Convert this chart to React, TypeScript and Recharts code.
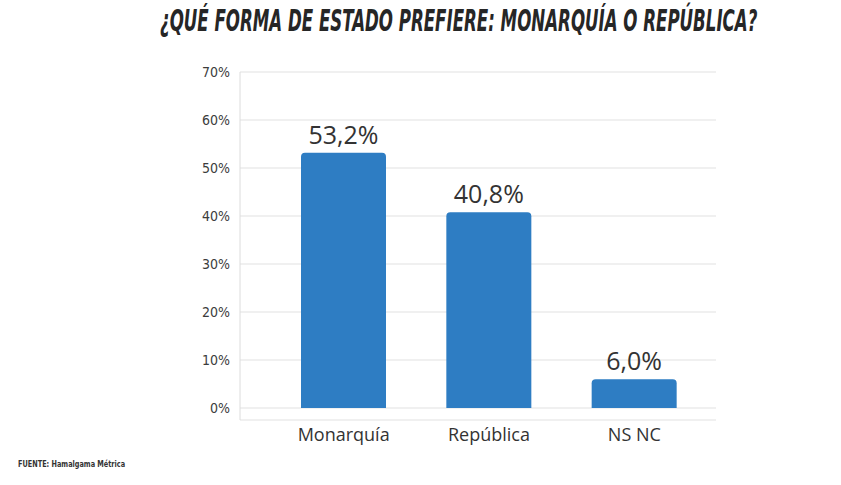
import { useLayoutEffect, useRef, useState } from 'react';
import { BarChart, Bar, XAxis, YAxis, CartesianGrid, LabelList } from 'recharts';

const categories = ['Monarquía', 'República', 'NS NC'];
const values = [53.2, 40.8, 6.0];
const yTicks = [0, 10, 20, 30, 40, 50, 60, 70];

const data = categories.map((name, i) => ({ name, value: values[i] }));

const fmtPct = (v: number) => `${v.toFixed(1).replace('.', ',')}%`;

const narrow = '"DejaVu Sans Condensed", "Liberation Sans", sans-serif';

// squeeze a line of text horizontally so it spans `target` px
function FitText({ text, target, style }: { text: string; target: number; style: React.CSSProperties }) {
  const ref = useRef<HTMLSpanElement>(null);
  const [sx, setSx] = useState(1);
  useLayoutEffect(() => {
    if (ref.current) {
      const w = ref.current.offsetWidth;
      if (w > 0) setSx(target / w);
    }
  }, [text, target]);
  return (
    <span
      ref={ref}
      style={{ ...style, display: 'inline-block', whiteSpace: 'nowrap', transform: `scaleX(${sx})`, transformOrigin: 'left top' }}
    >
      {text}
    </span>
  );
}

export default function App() {
  return (
    <div style={{ position: 'absolute', left: 0, top: 0, width: 841, height: 485, background: '#fff', overflow: 'hidden' }}>
      <BarChart
        width={841}
        height={485}
        data={data}
        margin={{ top: 72, right: 125, bottom: 35, left: 0 }}
      >
        <CartesianGrid horizontal vertical={false} stroke="#e2e2e2" strokeWidth={1.2} />
        <XAxis
          dataKey="name"
          axisLine={false}
          tickLine={false}
          padding={{ left: 31, right: 9 }}
          tick={{ fontFamily: 'Open Sans', fontSize: 18, fill: '#333' }}
        />
        <YAxis
          width={240}
          domain={[-2.5, 70]}
          ticks={yTicks}
          interval={0}
          tickFormatter={(v: number) => `${v}%`}
          axisLine={{ stroke: '#dcdcdc' }}
          tickLine={false}
          tickMargin={4}
          tick={{ fontFamily: narrow, fontSize: 14, fill: '#3c3c3c' }}
        />
        <Bar dataKey="value" fill="#2e7dc3" barSize={85} radius={[4, 4, 0, 0]} isAnimationActive={false}>
          <LabelList
            dataKey="value"
            position="top"
            offset={9}
            formatter={(v: number) => fmtPct(v)}
            style={{ fontFamily: 'Open Sans', fontSize: 25, fill: '#333' }}
          />
        </Bar>
      </BarChart>
      <div style={{ position: 'absolute', left: 160, top: 2 }}>
        <FitText
          text="¿QUÉ FORMA DE ESTADO PREFIERE: MONARQUÍA O REPÚBLICA?"
          target={597}
          style={{ fontFamily: narrow, fontWeight: 'bold', fontStyle: 'italic', fontSize: 30, lineHeight: '38px', color: '#262626' }}
        />
      </div>
      <div style={{ position: 'absolute', left: 18, top: 453 }}>
        <FitText
          text="FUENTE: Hamalgama Métrica"
          target={107}
          style={{ fontFamily: narrow, fontWeight: 'bold', fontSize: 8, lineHeight: '10px', color: '#333' }}
        />
      </div>
    </div>
  );
}
